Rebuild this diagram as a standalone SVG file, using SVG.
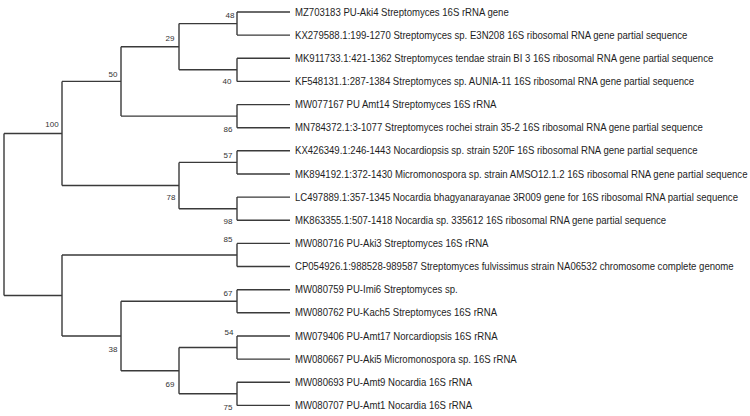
<svg xmlns="http://www.w3.org/2000/svg" width="750" height="416" viewBox="0 0 750 416">
<style>
.br{fill:none;stroke:#3a3a3a;stroke-width:1.4}
.lf{font-family:"Liberation Sans",Arial,sans-serif;font-size:10.2px;fill:#1e1e1e}
.bs{font-family:"Liberation Sans",Arial,sans-serif;font-size:8px;fill:#333;text-anchor:middle}
</style>
<rect width="750" height="416" fill="#fff"/>
<g id="connectors" class="br">
<path d="M237 12H290M237 35.1H290M237 58.3H290M237 81.4H290M237 104.6H290M237 127.7H290M237 150.8H290M237 174H290M237 197.1H290M237 220.3H290M237 243.4H290M237 266.5H290M237 289.7H290M237 312.8H290M237 336H290M237 359.1H290M237 382.2H290M237 405.4H290"/>
<path d="M237 12V35.1M237 58.3V81.4M237 104.6V127.7M237 150.8V174M237 197.1V220.3M237 243.4V266.5M237 289.7V312.8M237 336V359.1M237 382.2V405.4"/>
<path d="M179 23.6H237M179 69.8H237M179 23.6V69.8"/>
<path d="M121 46.7H179M121 116.1H237M121 46.7V116.1"/>
<path d="M179 162.4H237M179 208.7H237M179 162.4V208.7"/>
<path d="M62 81.4H121M62 185.5H179M62 81.4V185.5"/>
<path d="M179 347.5H237M179 393.8H237M179 347.5V393.8"/>
<path d="M121 301.2H237M121 370.7H179M121 301.2V370.7"/>
<path d="M62 255H237M62 336H121M62 255V336"/>
<path d="M4 133.5H62M4 295.5H62M4 133.5V295.5"/>
</g>
<g id="n48"><text class="bs" x="230" y="18">48</text></g>
<g id="n29"><text class="bs" x="170" y="41">29</text></g>
<g id="n40"><text class="bs" x="227" y="84">40</text></g>
<g id="n50"><text class="bs" x="113" y="77">50</text></g>
<g id="n100"><text class="bs" x="52" y="127">100</text></g>
<g id="n86"><text class="bs" x="228" y="132">86</text></g>
<g id="n57"><text class="bs" x="228" y="158">57</text></g>
<g id="n78"><text class="bs" x="171" y="200">78</text></g>
<g id="n98"><text class="bs" x="228" y="224">98</text></g>
<g id="n85"><text class="bs" x="228" y="242">85</text></g>
<g id="n67"><text class="bs" x="228" y="296">67</text></g>
<g id="n38"><text class="bs" x="113" y="352">38</text></g>
<g id="n54"><text class="bs" x="229" y="335">54</text></g>
<g id="n69"><text class="bs" x="170" y="387">69</text></g>
<g id="n75"><text class="bs" x="228" y="410">75</text></g>
<g id="leaf1" transform="translate(295 15.6) scale(0.94 1)"><text class="lf">MZ703183 PU-Aki4 Streptomyces 16S rRNA gene</text></g>
<g id="leaf2" transform="translate(295 38.7) scale(0.94 1)"><text class="lf">KX279588.1:199-1270 Streptomyces sp. E3N208 16S ribosomal RNA gene partial sequence</text></g>
<g id="leaf3" transform="translate(295 61.9) scale(0.94 1)"><text class="lf">MK911733.1:421-1362 Streptomyces tendae strain BI 3 16S ribosomal RNA gene partial sequence</text></g>
<g id="leaf4" transform="translate(295 85) scale(0.94 1)"><text class="lf">KF548131.1:287-1384 Streptomyces sp. AUNIA-11 16S ribosomal RNA gene partial sequence</text></g>
<g id="leaf5" transform="translate(295 108.2) scale(0.94 1)"><text class="lf">MW077167 PU Amt14 Streptomyces 16S rRNA</text></g>
<g id="leaf6" transform="translate(295 131.3) scale(0.94 1)"><text class="lf">MN784372.1:3-1077 Streptomyces rochei strain 35-2 16S ribosomal RNA gene partial sequence</text></g>
<g id="leaf7" transform="translate(295 154.4) scale(0.94 1)"><text class="lf">KX426349.1:246-1443 Nocardiopsis sp. strain 520F 16S ribosomal RNA gene partial sequence</text></g>
<g id="leaf8" transform="translate(295 177.6) scale(0.94 1)"><text class="lf">MK894192.1:372-1430 Micromonospora sp. strain AMSO12.1.2 16S ribosomal RNA gene partial sequence</text></g>
<g id="leaf9" transform="translate(295 200.7) scale(0.94 1)"><text class="lf">LC497889.1:357-1345 Nocardia bhagyanarayanae 3R009 gene for 16S ribosomal RNA partial sequence</text></g>
<g id="leaf10" transform="translate(295 223.9) scale(0.94 1)"><text class="lf">MK863355.1:507-1418 Nocardia sp. 335612 16S ribosomal RNA gene partial sequence</text></g>
<g id="leaf11" transform="translate(295 247) scale(0.94 1)"><text class="lf">MW080716 PU-Aki3 Streptomyces 16S rRNA</text></g>
<g id="leaf12" transform="translate(295 270.1) scale(0.94 1)"><text class="lf">CP054926.1:988528-989587 Streptomyces fulvissimus strain NA06532 chromosome complete genome</text></g>
<g id="leaf13" transform="translate(295 293.3) scale(0.94 1)"><text class="lf">MW080759 PU-Imi6 Streptomyces sp.</text></g>
<g id="leaf14" transform="translate(295 316.4) scale(0.94 1)"><text class="lf">MW080762 PU-Kach5 Streptomyces 16S rRNA</text></g>
<g id="leaf15" transform="translate(295 339.6) scale(0.94 1)"><text class="lf">MW079406 PU-Amt17 Norcardiopsis 16S rRNA</text></g>
<g id="leaf16" transform="translate(295 362.7) scale(0.94 1)"><text class="lf">MW080667 PU-Aki5 Micromonospora sp. 16S rRNA</text></g>
<g id="leaf17" transform="translate(295 385.8) scale(0.94 1)"><text class="lf">MW080693 PU-Amt9 Nocardia 16S rRNA</text></g>
<g id="leaf18" transform="translate(295 409) scale(0.94 1)"><text class="lf">MW080707 PU-Amt1 Nocardia 16S rRNA</text></g>
</svg>
